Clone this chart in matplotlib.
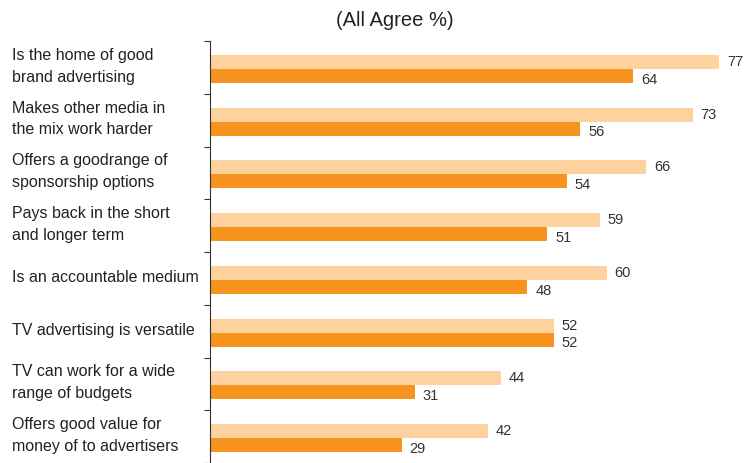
import matplotlib.pyplot as plt
import matplotlib.transforms as mtransforms

categories = [
    "Is the home of good\nbrand advertising",
    "Makes other media in\nthe mix work harder",
    "Offers a goodrange of\nsponsorship options",
    "Pays back in the short\nand longer term",
    "Is an accountable medium",
    "TV advertising is versatile",
    "TV can work for a wide\nrange of budgets",
    "Offers good value for\nmoney of to advertisers",
]
light_vals = [77, 73, 66, 59, 60, 52, 44, 42]
dark_vals = [64, 56, 54, 51, 48, 52, 31, 29]

light_col = '#FDD29F'
dark_col = '#F7941F'

plt.rcParams['font.family'] = ['Liberation Sans', 'DejaVu Sans']

fig = plt.figure(figsize=(7.47, 4.64), dpi=100)
ax = fig.add_axes([210 / 747, 0.0, 537 / 747, 422 / 464])

y = [i + 0.03 for i in range(len(categories))]
h = 0.265
ax.barh([i - h / 2 for i in y], light_vals, height=h, color=light_col)
ax.barh([i + h / 2 for i in y], dark_vals, height=h, color=dark_col)

for i, (lv, dv) in enumerate(zip(light_vals, dark_vals)):
    ax.text(lv + 1.2, y[i] - h / 2 - 0.02, str(lv), va='center', ha='left',
            fontsize=10.5, color='#333333')
    ax.text(dv + 1.2, y[i] + h / 2 + 0.05, str(dv), va='center', ha='left',
            fontsize=10.5, color='#333333')

ax.set_xlim(0, 537 / 6.61)
ax.set_ylim(7.46, -0.5)

# tick marks between categories, labels drawn separately
ax.set_yticks([i - 0.5 for i in range(len(categories) + 1)])
ax.set_yticklabels([])
ax.tick_params(axis='y', direction='out', length=4, color='#333333')
ax.set_xticks([])
for s in ['top', 'right', 'bottom']:
    ax.spines[s].set_visible(False)
ax.spines['left'].set_color('#333333')

trans = mtransforms.blended_transform_factory(fig.transFigure, ax.transData)
for i, lab in enumerate(categories):
    ax.text(12 / 747, i - 0.04, lab, transform=trans, ha='left', va='center',
            fontsize=11.5, color='#222222', linespacing=1.55)

fig.text(395 / 747, 1 - 20 / 464, '(All Agree %)', ha='center', va='center',
         fontsize=14.5, color='#222222')

fig.savefig('out.png', dpi=100)
